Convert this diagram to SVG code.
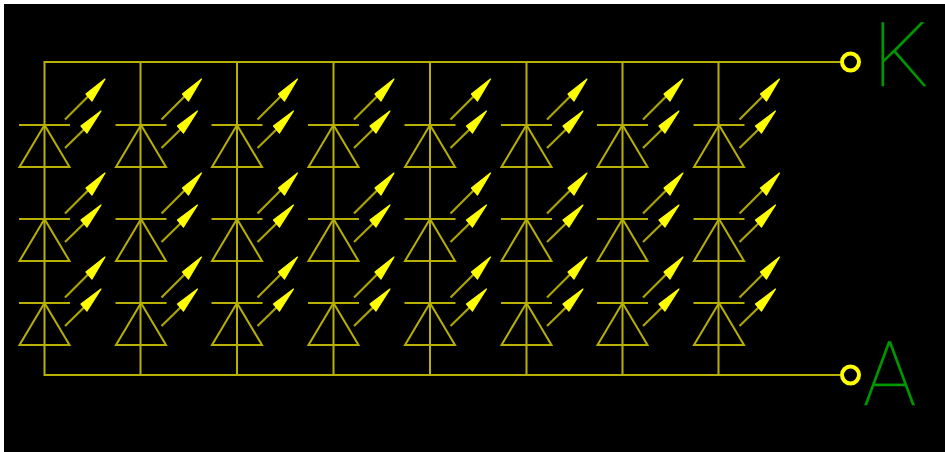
<svg xmlns="http://www.w3.org/2000/svg" width="945" height="452" viewBox="0 0 945 452">
<style>
.w{fill:none;stroke:#b8b000;stroke-width:2}
.a{fill:#ffff00;stroke:#ffff00;stroke-width:1.200;stroke-linejoin:round}
.s{fill:none;stroke:#aca400;stroke-width:2.200}
.t{fill:none;stroke:#ffff00;stroke-width:4}
.l{font-family:Roboto,"Liberation Sans",sans-serif;font-weight:100;font-size:89px;fill:#009800;stroke:#009800;stroke-width:.3}
</style>
<defs>
<g id="led">
<path class="w" d="M-25.500 0H25.500M0 0L-25 42H25Z"/>
<path class="s" d="M20.500 -5.500L44 -29M20.500 23L41 3"/>
<path class="a" d="M60.500 -46L41.500 -31L47.500 -24Z"/>
<path class="a" d="M56.500 -14L36.500 1L42.500 8Z"/>
</g>
</defs>
<rect width="945" height="452" fill="#fff"/>
<rect x="4" y="4" width="941" height="448" fill="#000"/>
<g id="connectors">
<path class="w" d="M840 62H44.500V375H840"/>
<path class="w" d="M140.500 62V375M237 62V375M333.500 62V375M430 62V375M526.500 62V375M622.500 62V375M718.500 62V375"/>
</g>
<g id="leds">
<use id="d11" href="#led" x="44.500" y="125"/><use id="d12" href="#led" x="141" y="125"/><use id="d13" href="#led" x="237" y="125"/><use id="d14" href="#led" x="333.500" y="125"/><use id="d15" href="#led" x="430" y="125"/><use id="d16" href="#led" x="526.500" y="125"/><use id="d17" href="#led" x="622.500" y="125"/><use id="d18" href="#led" x="719" y="125"/>
<use id="d21" href="#led" x="44.500" y="219"/><use id="d22" href="#led" x="141" y="219"/><use id="d23" href="#led" x="237" y="219"/><use id="d24" href="#led" x="333.500" y="219"/><use id="d25" href="#led" x="430" y="219"/><use id="d26" href="#led" x="526.500" y="219"/><use id="d27" href="#led" x="622.500" y="219"/><use id="d28" href="#led" x="719" y="219"/>
<use id="d31" href="#led" x="44.500" y="303"/><use id="d32" href="#led" x="141" y="303"/><use id="d33" href="#led" x="237" y="303"/><use id="d34" href="#led" x="333.500" y="303"/><use id="d35" href="#led" x="430" y="303"/><use id="d36" href="#led" x="526.500" y="303"/><use id="d37" href="#led" x="622.500" y="303"/><use id="d38" href="#led" x="719" y="303"/>
</g>
<g id="terminal-k"><circle class="t" cx="850.500" cy="62" r="8.500"/><text class="l" x="873" y="86">K</text></g>
<g id="terminal-a"><circle class="t" cx="850.500" cy="375" r="8.500"/><text class="l" x="863" y="405">A</text></g>
</svg>
